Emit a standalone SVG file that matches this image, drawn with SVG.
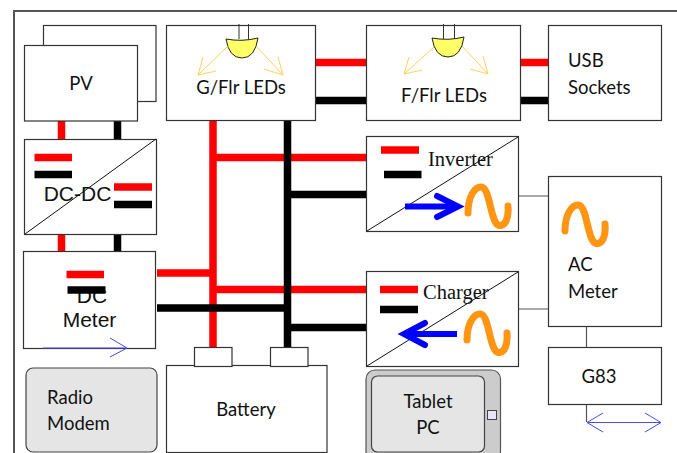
<svg xmlns="http://www.w3.org/2000/svg" width="677" height="453" viewBox="0 0 677 453">
<defs>
<g id="sine"><path d="M-19 11 C-19 -6 -12 -15 -6 -15 C3 -15 3 18 11 23 C18 26 22 16 21 4" fill="none" stroke="#ff9512" stroke-width="7" stroke-linecap="round"/></g>
<g id="bulb">
<path d="M-16 0 Q0 3 16 -1 Q13 19 0 19 Q-13 19 -16 0Z" fill="#ffff66" stroke="#222" stroke-width="1"/>
</g>
</defs>
<style>
text{font-family:"Lato","Carlito","Liberation Sans",sans-serif;font-size:18.500px;fill:#111;text-anchor:middle}
.sans{font-family:"Liberation Sans",sans-serif}
.serif{font-family:"Liberation Serif",serif;font-size:20.500px;text-anchor:start}
.start{text-anchor:start}
.box{fill:#fff;stroke:#333;stroke-width:1.200}
.grey{fill:#e5e5e5;stroke:#444;stroke-width:1.200}
.r{stroke:#f00;stroke-width:7.500;fill:none}
.k{stroke:#000;stroke-width:7.500;fill:none}
.t{stroke:#555;stroke-width:1.200;fill:none}
.d{stroke:#111;stroke-width:1;fill:none}
.s{stroke:#333;stroke-width:1;fill:none}
.ray{stroke:#ffd25e;stroke-width:1;fill:none}
.thin{stroke:#4a4aee;stroke-width:1;fill:none}
.ba{stroke:#00f;stroke-width:6;fill:none;stroke-linecap:round;stroke-linejoin:miter}
</style>
<path d="M14 453V11H677" fill="none" stroke="#555" stroke-width="2"/>

<g id="connectors">
<path class="r" d="M61.500 121V139M61.500 234V251"/>
<path class="k" d="M117.500 121V139M117.500 234V251"/>
<path class="r" d="M315 62.500H366M521 62.500H549"/>
<path class="k" d="M315 100.500H366M521 100.500H549"/>
<path class="r" d="M213 120V347M213 157.500H367M157 273H213M213 289.500H367"/>
<path class="k" d="M287.500 121V348M287.500 194.500H367M157 308H287.500M287.500 327.500H367"/>
<path class="t" d="M519 196H549M519 309H549M586.500 327V347M586.500 405V422"/>
</g>

<g id="pv">
<rect class="box" x="43.500" y="25.500" width="112.500" height="76"/>
<rect class="box" x="24.500" y="45.500" width="113" height="75.500"/>
<text x="81" y="90">PV</text>
</g>

<g id="gflr-leds">
<rect class="box" x="166.500" y="25.500" width="149" height="95"/>
<path class="s" d="M239 24V39M248.500 24V39"/>
<use href="#bulb" x="242" y="39"/>
<path class="ray" d="M228 46L198 75M198 75L203 57M198 75L216 71M257 47L283 75M283 75L278 57M283 75L264 69"/>
<text x="241" y="94">G/Flr LEDs</text>
</g>

<g id="fflr-leds">
<rect class="box" x="366.500" y="25.500" width="154" height="95"/>
<path class="s" d="M443.500 24V39M454.500 24V39"/>
<use href="#bulb" x="448" y="38"/>
<path class="ray" d="M434 47L404 74M404 74L422 70M404 74L409 57M462 46L488 74M488 74L483 56M488 74L470 69"/>
<text x="444" y="102">F/Flr LEDs</text>
</g>

<g id="usb-sockets">
<rect class="box" x="548.500" y="25.500" width="113" height="95"/>
<text class="start" x="568" y="67">USB</text>
<text class="start" x="568" y="94">Sockets</text>
</g>

<g id="dc-dc">
<rect class="box" x="24.500" y="139.500" width="132" height="95"/>
<path class="d" d="M25 234L156 139"/>
<path class="r" d="M34.500 157.500H72M114 187H152"/>
<path class="k" d="M34.500 174.500H72M114 204.500H152"/>
<text class="sans" x="77.500" y="201" style="font-size:21px">DC-DC</text>
</g>

<g id="dc-meter">
<rect class="box" x="23.500" y="251.500" width="132" height="97"/>
<text class="sans" x="92" y="303" style="font-size:21px">DC</text>
<text class="sans" x="89.500" y="327" style="font-size:21px">Meter</text>
<path class="r" d="M66.500 274.500H104"/>
<path class="k" d="M67.500 290H105.500"/>
<path class="thin" d="M43 348H127M110 338L127 348L110 357"/>
</g>

<g id="inverter">
<rect class="box" x="366.500" y="136.500" width="152" height="95"/>
<path class="d" d="M367 231L518 137"/>
<path class="r" d="M381 150H419"/>
<path class="k" d="M384 174.500H421.500"/>
<text class="serif" x="428" y="166">Inverter</text>
<path d="M405 206.500H452" stroke="#00f" stroke-width="6" fill="none"/>
<path class="ba" d="M437 196L458 206.500L437 217"/>
<use href="#sine" x="487" y="202"/>
</g>

<g id="charger">
<rect class="box" x="366.500" y="271.500" width="152" height="95"/>
<path class="d" d="M367 366L518 272"/>
<path class="r" d="M380 289.500H418"/>
<path class="k" d="M380 309.500H418"/>
<text class="serif" x="423" y="299">Charger</text>
<path d="M408 334H457" stroke="#00f" stroke-width="6" fill="none"/>
<path class="ba" d="M425 323L404 334L425 345"/>
<use href="#sine" x="486" y="329"/>
</g>

<g id="ac-meter">
<rect class="box" x="548.500" y="176.500" width="113" height="150"/>
<use href="#sine" x="584" y="220"/>
<text class="start" x="568" y="271">AC</text>
<text class="start" x="568" y="298">Meter</text>
</g>

<g id="g83">
<rect class="box" x="548.500" y="347.500" width="113" height="57"/>
<text x="599" y="383">G83</text>
<path class="thin" d="M587 422.500H661M603 413L587 422.500L603 432M645 413L661 422.500L645 432"/>
</g>

<g id="battery">
<rect class="box" x="166.500" y="365.500" width="160.500" height="87"/>
<rect class="box" x="194.500" y="347.500" width="37.500" height="19"/>
<rect class="box" x="270.500" y="347.500" width="37.500" height="19"/>
<text x="246" y="416">Battery</text>
</g>

<g id="radio-modem">
<rect class="grey" x="26" y="368" width="131" height="84" rx="7"/>
<text class="start" x="47" y="404">Radio</text>
<text class="start" x="47" y="430">Modem</text>
</g>

<g id="tablet-pc">
<rect x="366" y="370" width="134.500" height="90" rx="9" fill="#ccc" stroke="#555" stroke-width="1.200"/>
<rect class="grey" x="371.500" y="376" width="113" height="76" rx="6"/>
<rect x="487.500" y="410.500" width="9" height="9" fill="#e6e6fa" stroke="#444" stroke-width="1"/>
<text x="428" y="408">Tablet</text>
<text x="428" y="434">PC</text>
</g>
</svg>
